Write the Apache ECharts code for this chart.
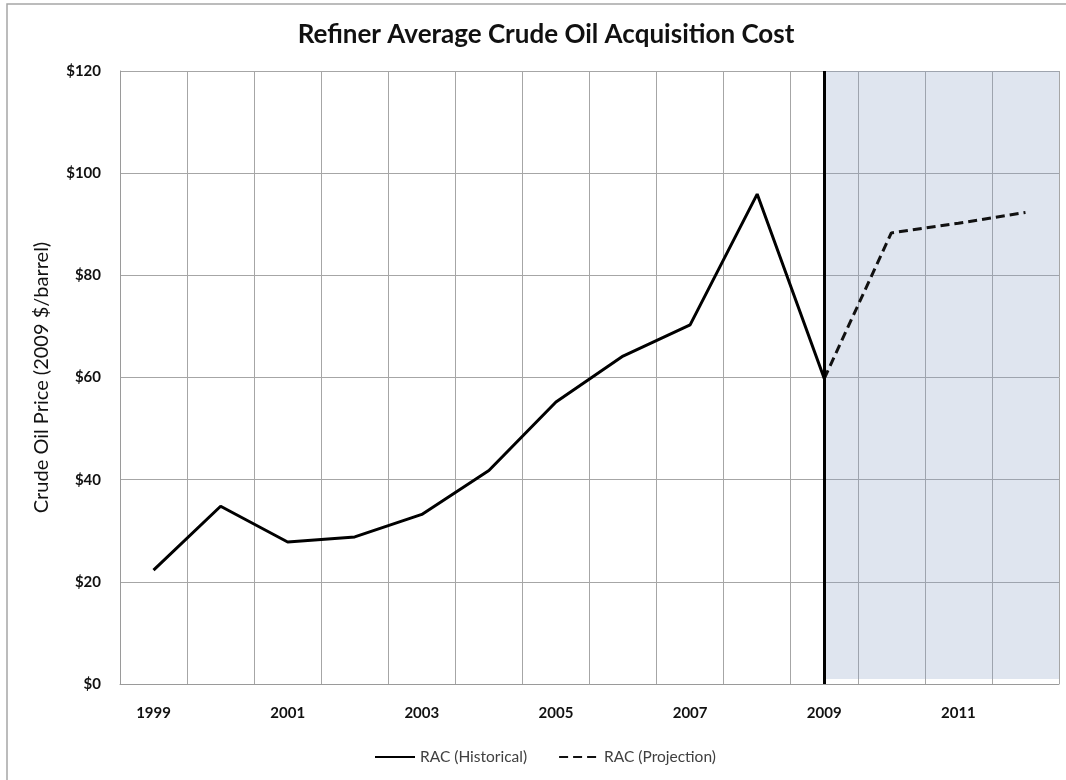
<!DOCTYPE html>
<html>
<head>
<meta charset="utf-8">
<script src="https://cdn.jsdelivr.net/npm/echarts@6/dist/echarts.min.js"></script>
<style>
  html, body, #main { margin: 0; padding: 0; width: 1066px; height: 780px; background: #fff; overflow: hidden; }
</style>
</head>
<body>
<div id="main"></div>
<script>
// years on the x axis
const years = ["1999", "2000", "2001", "2002", "2003", "2004", "2005", "2006", "2007", "2008", "2009", "2010", "2011", "2012"];
// RAC, 2009 $/barrel
const historical = [22.3, 34.8, 27.8, 28.8, 33.2, 41.8, 55.2, 64.2, 70.3, 95.9, 59.8, null, null, null];
const projection = [null, null, null, null, null, null, null, null, null, null, 59.8, 88.3, 90.2, 92.3];
const projStart = 10; // index of 2009
const yTicks = { min: 0, max: 120, step: 20 };

const font = "Lato, 'Open Sans', sans-serif";
const myChart = echarts.init(document.getElementById("main"));

const option = {
  animation: false,
  backgroundColor: "#fff",
  title: {
    text: "Refiner Average Crude Oil Acquisition Cost",
    left: 541,
    textAlign: "center",
    top: 17,
    textStyle: { fontFamily: font, fontSize: 26, fontWeight: "bold", color: "#111" },
  },
  graphic: [
    {
      type: "rect",
      shape: { x: 7, y: 4, width: 1070, height: 800 },
      style: { fill: null, stroke: "#a6a6a6", lineWidth: 1.5 },
      silent: true,
    },
  ],
  legend: {
    bottom: 10,
    left: 369,
    itemWidth: 40,
    itemHeight: 10,
    itemGap: 31,
    itemStyle: { opacity: 0 },
    textStyle: { fontFamily: font, fontSize: 15.5, color: "#404040" },
    data: ["RAC (Historical)", "RAC (Projection)"],
  },
  grid: { left: 120, right: 7, top: 71, bottom: 96 },
  xAxis: [
    {
      type: "category",
      data: years,
      boundaryGap: true,
      axisLine: { lineStyle: { color: "#9a9a9a", width: 1 } },
      axisTick: { show: false },
      axisLabel: {
        interval: 1,
        margin: 22,
        fontFamily: font,
        fontSize: 15,
        fontWeight: "bold",
        color: "#111",
      },
      splitLine: { show: true, interval: 0, lineStyle: { color: "#a6a6a6", width: 1 } },
    },
    {
      // hidden helper axis so the shaded projection area can reach the plot edge
      type: "value",
      min: -0.5,
      max: years.length - 0.5,
      show: false,
    },
  ],
  yAxis: {
    type: "value",
    min: yTicks.min,
    max: yTicks.max,
    interval: yTicks.step,
    name: "Crude Oil Price (2009 $/barrel)",
    nameLocation: "middle",
    nameRotate: 90,
    nameGap: 68,
    nameTextStyle: { fontFamily: font, fontSize: 20, color: "#111" },
    axisLine: { show: true, onZero: false, lineStyle: { color: "#9a9a9a" } },
    axisTick: { show: false },
    axisLabel: {
      margin: 19,
      fontFamily: font,
      fontSize: 15,
      fontWeight: "bold",
      color: "#111",
      formatter: (v) => "$" + v,
    },
    splitLine: { lineStyle: { color: "#a6a6a6", width: 1 } },
  },
  series: [
    {
      name: "shade",
      type: "line",
      xAxisIndex: 1,
      data: [],
      silent: true,
      markArea: {
        silent: true,
        itemStyle: { color: "rgba(141,162,198,0.28)" },
        data: [[{ xAxis: projStart, yAxis: 1 }, { xAxis: years.length - 0.5, yAxis: yTicks.max }]],
      },
    },
    {
      name: "RAC (Historical)",
      type: "line",
      data: historical,
      symbol: "none",
      z: 5,
      lineStyle: { color: "#000", width: 3 },
      itemStyle: { color: "#000" },
      markLine: {
        silent: true,
        symbol: "none",
        label: { show: false },
        lineStyle: { color: "#000", width: 3, type: "solid" },
        data: [{ xAxis: years[projStart] }],
      },
    },
    {
      name: "RAC (Projection)",
      type: "line",
      data: projection,
      symbol: "none",
      z: 4,
      lineStyle: { color: "#111", width: 3, type: [9, 5] },
      itemStyle: { color: "#111" },
    },
  ],
};

myChart.setOption(option);
window.onresize = myChart.resize;
</script>
</body>
</html>
